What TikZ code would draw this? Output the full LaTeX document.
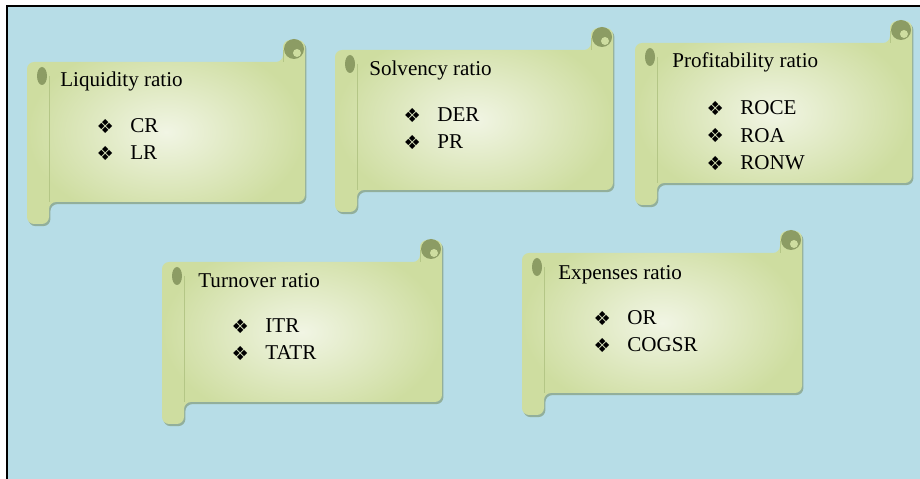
\documentclass[tikz,border=0pt]{standalone}
\usepackage{fontspec}
\setmainfont{Liberation Serif}
\newfontfamily\bulletfont{DejaVu Sans}
\usetikzlibrary{positioning}

\definecolor{bgblue}{RGB}{183,221,231}
\definecolor{scrollgreen}{RGB}{206,221,160}
\definecolor{scrolllight}{RGB}{241,245,228}
\definecolor{curlgreen}{RGB}{140,156,100}
\definecolor{rollline}{RGB}{180,198,134}
\definecolor{scrollshadow}{RGB}{110,130,80}

\def\rollw{22}

\tikzset{
  ratiotitle/.style={anchor=base west, inner sep=0pt, font=\fontsize{12}{14}\selectfont},
  ratioitem/.style={anchor=base west, inner sep=0pt, font=\fontsize{12}{14}\selectfont,
    label={[inner sep=0pt, xshift=-9pt, font=\bulletfont\fontsize{11}{12}\selectfont]left:❖}},
}

% scroll: left, top, right, bottom (pixels, y down)
\newcommand{\ratioscroll}[4]{%
  \fill[scrollshadow, opacity=0.5, rounded corners=4pt, xshift=0.8pt, yshift=-1.2pt]
    (#1,{#4+\rollw}) -- (#1,#2) -- ({#3-\rollw},#2) -- ({#3-\rollw},{#2-\rollw})
    -- (#3,{#2-\rollw}) -- (#3,#4) -- ({#1+\rollw},#4) -- ({#1+\rollw},{#4+\rollw}) -- cycle;
  \shade[inner color=scrolllight, outer color=scrollgreen, rounded corners=4pt]
    (#1,{#4+\rollw}) -- (#1,#2) -- ({#3-\rollw},#2) -- ({#3-\rollw},{#2-\rollw})
    -- (#3,{#2-\rollw}) -- (#3,#4) -- ({#1+\rollw},#4) -- ({#1+\rollw},{#4+\rollw}) -- cycle;
  \draw[rollline] ({#1+\rollw},{#2+14}) -- ({#1+\rollw},#4);
  \draw[rollline] ({#3-\rollw},{#2-\rollw+10}) -- ({#3-\rollw},#2);
  \fill[curlgreen] ({#1+15},{#2+14}) ellipse [x radius=5, y radius=9];
  \fill[curlgreen] ({#3-11},{#2-13}) circle [radius=10];
  \fill[scrollgreen] ({#3-8},{#2-9}) circle [radius=4];
}

\begin{document}
\begin{tikzpicture}[x=0.02cm, y=-0.02cm]
\useasboundingbox (0,0) rectangle (920,479);
\fill[bgblue] (7,6) rectangle (920,479);
\draw[line width=0.9pt] (7,479) -- (7,6) -- (920,6);

% the five scrolls
\ratioscroll{27}{62}{305}{202}
\ratioscroll{335}{50}{613}{190}
\ratioscroll{635}{43}{912}{183}
\ratioscroll{162}{262}{442}{402}
\ratioscroll{522}{253}{802}{393}

% liquidity
\node[ratiotitle] (liqtitle) at (60,87) {Liquidity ratio};
\foreach \itm [count=\k] in {CR,LR}
  \node[ratioitem] (liq\k) at (130,{133+27*(\k-1)}) {\itm};

% solvency
\node[ratiotitle] (soltitle) at (369,76) {Solvency ratio};
\foreach \itm [count=\k] in {DER,PR}
  \node[ratioitem] (sol\k) at (437,{122+27*(\k-1)}) {\itm};

% profitability
\node[ratiotitle] (protitle) at (672,68) {Profitability ratio};
\foreach \itm [count=\k] in {ROCE,ROA,RONW}
  \node[ratioitem] (pro\k) at (740,{115+27.5*(\k-1)}) {\itm};

% turnover
\node[ratiotitle] (turtitle) at (198,288) {Turnover ratio};
\foreach \itm [count=\k] in {ITR,TATR}
  \node[ratioitem] (tur\k) at (265,{333+27*(\k-1)}) {\itm};

% expenses
\node[ratiotitle] (exptitle) at (558,280) {Expenses ratio};
\foreach \itm [count=\k] in {OR,COGSR}
  \node[ratioitem] (exp\k) at (627,{325+27*(\k-1)}) {\itm};
\end{tikzpicture}
\end{document}
